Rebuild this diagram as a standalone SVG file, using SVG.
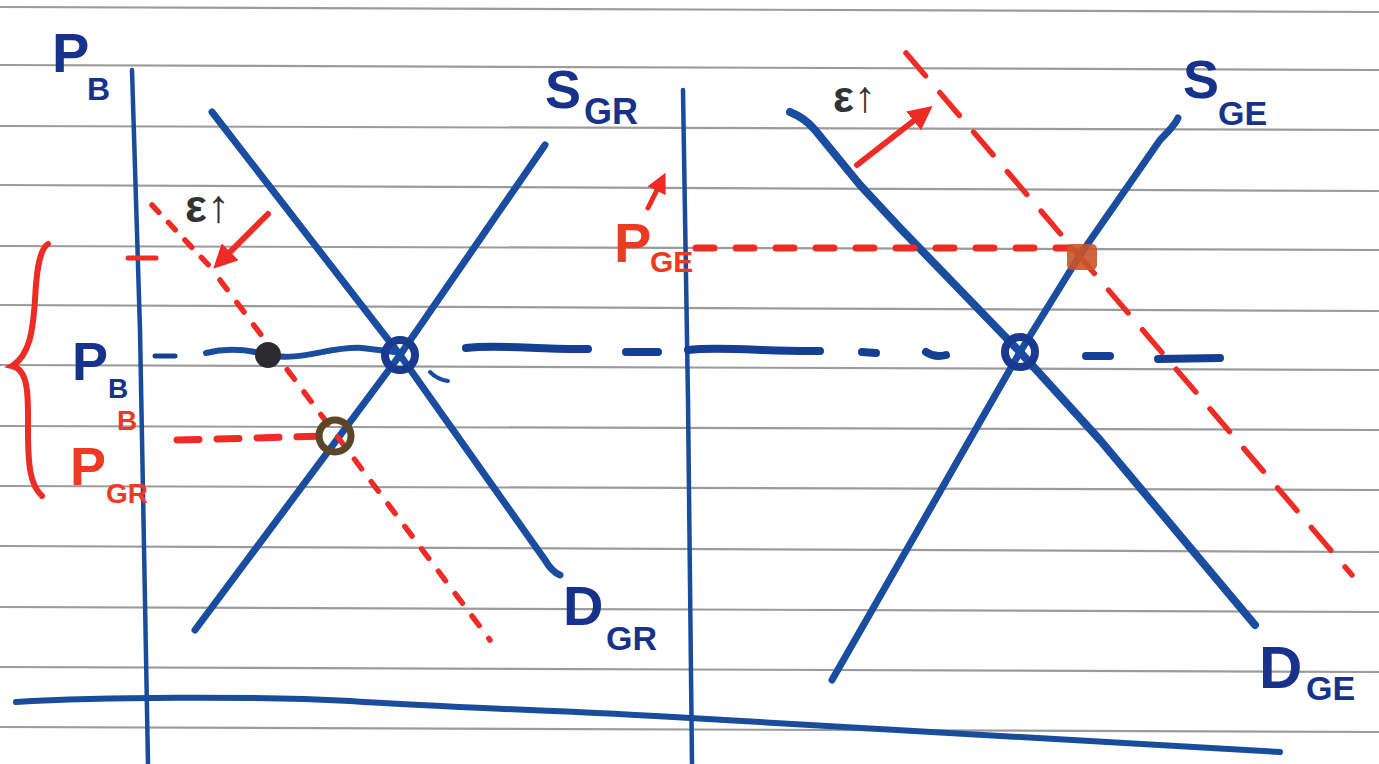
<svg xmlns="http://www.w3.org/2000/svg" width="1379" height="764" viewBox="0 0 1379 764">
<style>
.rule{stroke:#9b9b9b;stroke-width:2.2;fill:none}
.axis{stroke:#1a4c9c;stroke-width:4.5;fill:none;stroke-linecap:round}
.curve{stroke:#1a4ca0;stroke-width:7;fill:none;stroke-linecap:round;stroke-linejoin:round}
.bdash{stroke:#153f92;stroke-width:8;fill:none;stroke-linecap:round}
.rdash{stroke:#ee2b24;stroke-width:5.5;fill:none;stroke-linecap:round;stroke-dasharray:14 14}
.red{stroke:#ee2b24;stroke-width:6;fill:none;stroke-linecap:round}
.lblB{font-family:"Liberation Sans",Arial,sans-serif;font-weight:bold;fill:#17328a}
.lblR{font-family:"Liberation Sans",Arial,sans-serif;font-weight:bold;fill:#ef3a23}
.lblK{font-family:"Liberation Sans",Arial,sans-serif;font-weight:bold;fill:#333333}
</style>
<defs>
<marker id="ah" viewBox="0 0 10 10" refX="6" refY="5" markerWidth="4" markerHeight="4" orient="auto-start-reverse">
<path d="M0,0 L10,5 L0,10 z" fill="#ee2b24"/>
</marker>
</defs>
<rect width="1379" height="764" fill="#ffffff"/>
<g id="paper">
<line class="rule" x1="0" y1="7" x2="1379" y2="12"/>
<line class="rule" x1="0" y1="65" x2="1379" y2="70"/>
<line class="rule" x1="0" y1="126" x2="1379" y2="130"/>
<line class="rule" x1="0" y1="185" x2="1379" y2="191"/>
<line class="rule" x1="0" y1="246" x2="1379" y2="250"/>
<line class="rule" x1="0" y1="305" x2="1379" y2="311"/>
<line class="rule" x1="0" y1="365" x2="1379" y2="370"/>
<line class="rule" x1="0" y1="426" x2="1379" y2="430"/>
<line class="rule" x1="0" y1="486" x2="1379" y2="490"/>
<line class="rule" x1="0" y1="546" x2="1379" y2="552"/>
<line class="rule" x1="0" y1="607" x2="1379" y2="612"/>
<line class="rule" x1="0" y1="667" x2="1379" y2="672"/>
<line class="rule" x1="0" y1="727" x2="1379" y2="732"/>
</g>
<g id="axes">
<path class="axis" d="M132,70 L140,330 L148,764"/>
<path class="axis" d="M683,90 L688,400 L692,764"/>
<path class="axis" style="stroke-width:6" d="M16,702 C100,697 250,696 350,701 C450,708 560,710 690,718 C900,730 1100,742 1280,752"/>
</g>
<g id="left-market">
<path id="d-gr" class="curve" d="M212,112 L400,355 L545,560 Q552,572 560,575"/>
<path id="s-gr" class="curve" d="M195,630 L400,355 L545,145"/>
</g>
<g id="right-market">
<path id="d-ge" class="curve" style="stroke-width:8" d="M790,112 Q805,118 815,130 L860,185 L900,228 L1020,352 L1100,440 L1255,625"/>
<path id="s-ge" class="curve" d="M832,680 L1020,352 L1080,255 L1160,140 Q1175,125 1178,118"/>
</g>
<g id="connectors">
<path class="bdash" style="stroke-width:5" d="M155,356 L175,356"/>
<path class="curve" style="stroke-width:6" d="M206,353 C230,347 250,350 268,355 C300,362 330,346 362,348 L395,352"/>
<path class="bdash" d="M466,348 C500,344 540,350 588,349"/>
<path class="bdash" d="M626,352 L658,352"/>
<path class="bdash" d="M688,350 C720,346 770,352 820,351"/>
<path class="bdash" d="M862,352 L876,353"/>
<path class="bdash" d="M926,352 Q935,358 946,355"/>
<path class="bdash" d="M1086,356 L1110,356"/>
<path class="bdash" d="M1158,359 L1220,358"/>
<path class="curve" style="stroke-width:4" d="M430,372 Q438,380 448,381"/>
<path class="rdash" style="stroke-dasharray:10 14" d="M152,205 L215,272"/>
<path class="rdash" style="stroke-dasharray:12 16" d="M220,280 L490,640"/>
<path class="rdash" style="stroke-dasharray:30 22" d="M906,53 L1352,575"/>
<path class="rdash" style="stroke-width:7;stroke-dasharray:22 18" d="M177,440 L330,436"/>
<path class="rdash" style="stroke-width:7;stroke-dasharray:18 22" d="M696,248 L1070,248"/>
<path class="red" style="stroke-width:5" d="M128,258 L156,258"/>
<path class="red" marker-end="url(#ah)" d="M268,214 L220,262"/>
<path class="red" marker-end="url(#ah)" d="M857,165 L925,112"/>
<path class="red" marker-end="url(#ah)" style="stroke-width:5" d="M648,208 L662,180"/>
<path class="red" style="stroke-width:6" d="M48,244 C38,250 36,280 35,300 C33,330 30,355 12,366 C30,370 28,400 28,430 C28,465 30,485 42,496"/>
</g>
<g id="points">
<circle cx="400" cy="355" r="15" fill="none" stroke="#1a3a8f" stroke-width="8"/>
<circle cx="1020" cy="352" r="15" fill="none" stroke="#1a3a8f" stroke-width="8"/>
<circle cx="268" cy="355" r="12" fill="#2c2c30" stroke="#2c2c30" stroke-width="2"/>
<circle cx="335" cy="436" r="16" fill="none" stroke="#5b4627" stroke-width="7"/>
<rect x="1067" y="244" width="30" height="26" rx="5" fill="#c8542a" opacity="0.9"/>
</g>
<g id="labels">
<text class="lblB" x="52" y="72" font-size="56">P</text>
<text class="lblB" x="87" y="100" font-size="32">B</text>
<text class="lblB" x="545" y="108" font-size="54">S</text>
<text class="lblB" x="584" y="124" font-size="36">GR</text>
<text class="lblB" x="563" y="625" font-size="56">D</text>
<text class="lblB" x="606" y="650" font-size="34">GR</text>
<text class="lblB" x="1183" y="98" font-size="54">S</text>
<text class="lblB" x="1218" y="125" font-size="34">GE</text>
<text class="lblB" x="1259" y="688" font-size="60">D</text>
<text class="lblB" x="1306" y="700" font-size="34">GE</text>
<text class="lblB" x="72" y="380" font-size="54">P</text>
<text class="lblB" x="108" y="398" font-size="28">B</text>
<text class="lblR" x="70" y="485" font-size="54">P</text>
<text class="lblR" x="117" y="430" font-size="28">B</text>
<text class="lblR" x="106" y="503" font-size="28">GR</text>
<text class="lblR" x="614" y="262" font-size="56">P</text>
<text class="lblR" x="650" y="272" font-size="30">GE</text>
<text class="lblK" x="185" y="222" font-size="46">ε↑</text>
<text class="lblK" x="833" y="112" font-size="44">ε↑</text>
</g>
</svg>
